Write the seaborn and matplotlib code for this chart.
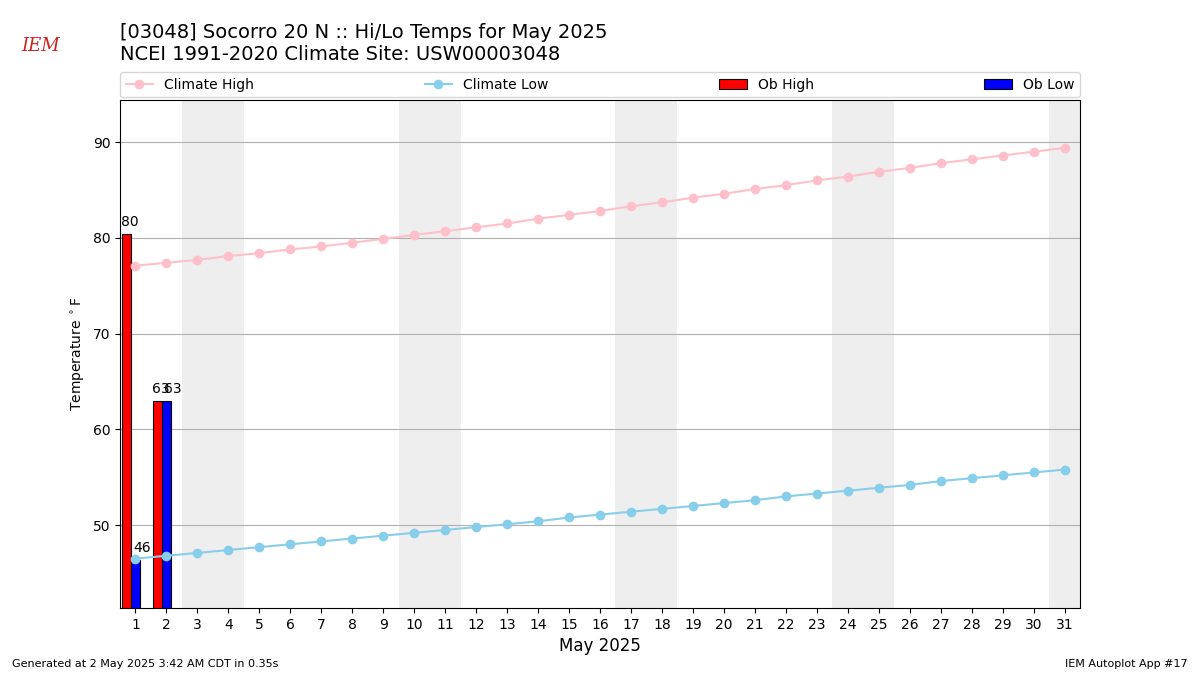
import matplotlib
matplotlib.use("Agg")
import matplotlib.pyplot as plt
import seaborn as sns
import numpy as np

days = list(range(1, 32))
climate_high = [77.1,77.4,77.7,78.1,78.4,78.8,79.1,79.5,79.9,80.3,80.7,81.1,81.5,82.0,82.4,82.8,83.3,83.7,84.2,84.6,85.1,85.5,86.0,86.4,86.9,87.3,87.8,88.2,88.6,89.0,89.4]
climate_low = [46.5,46.8,47.1,47.4,47.7,48.0,48.3,48.6,48.9,49.2,49.5,49.8,50.1,50.4,50.8,51.1,51.4,51.7,52.0,52.3,52.6,53.0,53.3,53.6,53.9,54.2,54.6,54.9,55.2,55.5,55.8]
ob_days = [1, 2]
ob_high = [80.4, 63.0]
ob_low = [46.4, 63.0]
weekend_days = [3, 4, 10, 11, 17, 18, 24, 25, 31]

fig = plt.figure(figsize=(12, 6.75), dpi=100)
ax = fig.add_axes([0.1, 0.0993, 0.8, 0.7526])
ymin, ymax = 41.35, 94.4

for d in weekend_days:
    ax.axvspan(d - 0.5, d + 0.5, color="#eeeeee", zorder=0, lw=0)

w = 0.3
ax.bar(np.array(ob_days) - 0.3, np.array(ob_high) - ymin, bottom=ymin, width=w,
       color="red", edgecolor="black", lw=0.8, label="Ob High", zorder=3)
ax.bar(np.array(ob_days), np.array(ob_low) - ymin, bottom=ymin, width=w,
       color="blue", edgecolor="black", lw=0.8, label="Ob Low", zorder=3)
for d, v in zip(ob_days, ob_high):
    ax.text(d - 0.18, v + 0.5, f"{v:.0f}", ha="center", va="bottom", fontsize=10)
for d, v in zip(ob_days, ob_low):
    ax.text(d + 0.2, v + 0.5, f"{v:.0f}", ha="center", va="bottom", fontsize=10)

sns.lineplot(x=days, y=climate_high, ax=ax, color="pink", marker="o", markersize=7,
             markeredgewidth=0, label="Climate High", zorder=4)
sns.lineplot(x=days, y=climate_low, ax=ax, color="skyblue", marker="o", markersize=7,
             markeredgewidth=0, label="Climate Low", zorder=4)

ax.set_xlim(0.5, 31.5)
ax.set_ylim(ymin, ymax)
ax.set_xticks(days)
ax.set_yticks([50, 60, 70, 80, 90])
ax.grid(axis="y", color="#b0b0b0", lw=0.8)
ax.set_axisbelow(True)
ax.set_xlabel("May 2025", fontsize=12)
ax.set_ylabel(r"Temperature $^\circ$F")

h, l = ax.get_legend_handles_labels()
order = [l.index(n) for n in ["Climate High", "Climate Low", "Ob High", "Ob Low"]]
ax.legend([h[i] for i in order], [l[i] for i in order], loc="lower left",
          bbox_to_anchor=(0, 1.005, 1, 0.05), ncol=4, mode="expand", borderaxespad=0, fontsize=10)

fig.text(0.1, 0.935, "[03048] Socorro 20 N :: Hi/Lo Temps for May 2025\nNCEI 1991-2020 Climate Site: USW00003048",
         fontsize=14, va="center", ha="left")
fig.text(0.01, 0.012, "Generated at 2 May 2025 3:42 AM CDT in 0.35s", fontsize=8)
fig.text(0.99, 0.012, "IEM Autoplot App #17", fontsize=8, ha="right")
fig.text(0.018, 0.925, "IEM", fontsize=13, color="#cc2222", family="DejaVu Serif", style="italic")

fig.savefig("out.png", dpi=100)
